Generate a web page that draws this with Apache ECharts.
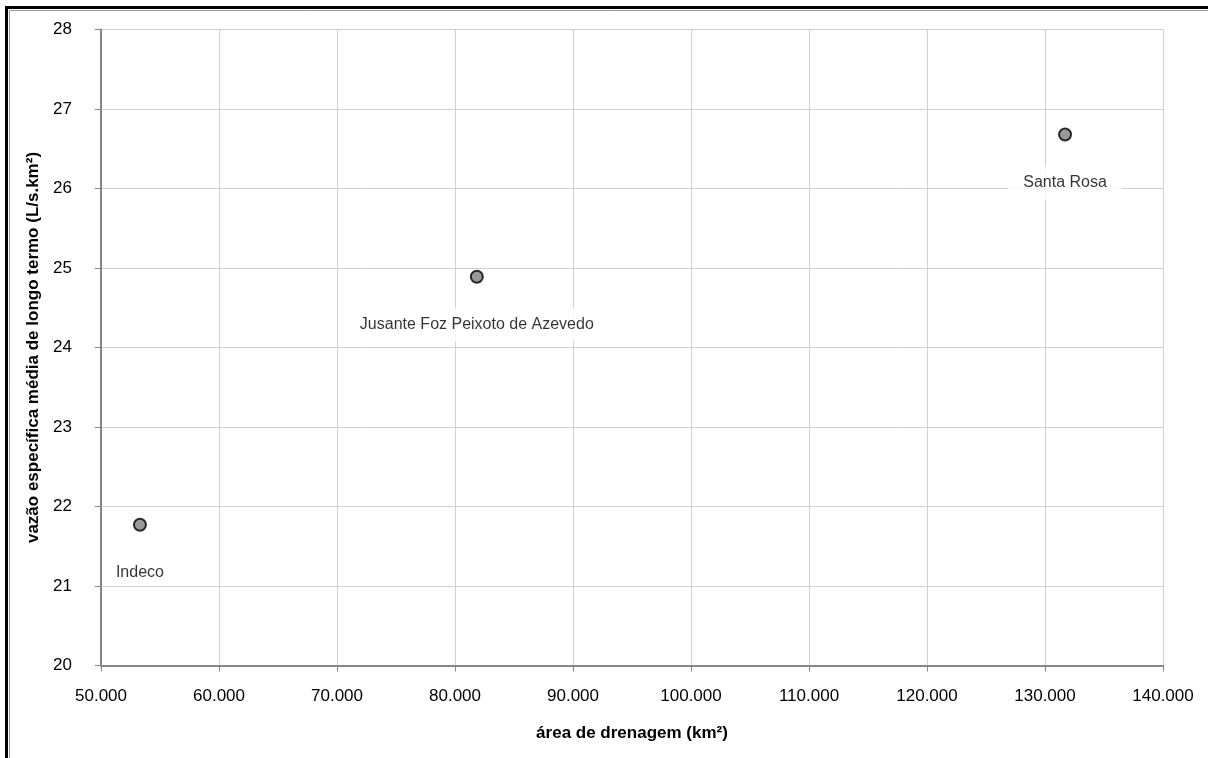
<!DOCTYPE html>
<html><head><meta charset="utf-8">
<script src="https://cdn.jsdelivr.net/npm/echarts@6/dist/echarts.min.js"></script>
<style>html,body{margin:0;padding:0;background:#fff}#c{width:1208px;height:758px}</style>
</head><body><div id="c"></div>
<script>
const names = ['Indeco', 'Jusante Foz Peixoto de Azevedo', 'Santa Rosa'];
const areas = [53300, 81850, 131700];
const specificFlows = [21.77, 24.89, 26.68];
const xTicks = {min: 50000, max: 140000, interval: 10000};
const yTicks = {min: 20, max: 28, interval: 1};

const font = 'Liberation Sans';
const chart = echarts.init(document.getElementById('c'), null, {renderer: 'canvas'});
const fmt = v => {
  const s = String(Math.round(v));
  return s.replace(/\B(?=(\d{3})+(?!\d))/g, '.');
};
chart.setOption({
  animation: false,
  backgroundColor: '#fff',
  graphic: [
    {type: 'rect', shape: {x: 6.5, y: 7.5, width: 1300, height: 900}, style: {fill: 'none', stroke: '#000', lineWidth: 3}},
    {type: 'rect', shape: {x: 9.5, y: 10.5, width: 1300, height: 900}, style: {fill: 'none', stroke: '#999', lineWidth: 1}}
  ],
  grid: {left: 101, right: 45, top: 29.5, bottom: 92.5},
  xAxis: {
    type: 'value', min: xTicks.min, max: xTicks.max, interval: xTicks.interval,
    name: 'área de drenagem (km²)', nameLocation: 'middle', nameGap: 59,
    nameTextStyle: {fontFamily: font, fontSize: 17, fontWeight: 'bold', color: '#000'},
    axisLine: {show: true, lineStyle: {color: '#868686', width: 2}},
    axisTick: {show: true, length: 6, lineStyle: {color: '#868686', width: 1}},
    axisLabel: {fontFamily: font, fontSize: 17, color: '#000', margin: 22, formatter: fmt},
    splitLine: {show: true, lineStyle: {color: '#d0d0d0', width: 1}}
  },
  yAxis: {
    type: 'value', min: yTicks.min, max: yTicks.max, interval: yTicks.interval,
    name: 'vazão específica média de longo termo (L/s.km²)', nameLocation: 'middle', nameGap: 49, nameRotate: 90,
    nameTextStyle: {fontFamily: font, fontSize: 17, fontWeight: 'bold', color: '#000'},
    axisLine: {show: true, lineStyle: {color: '#868686', width: 2}},
    axisTick: {show: true, length: 6, lineStyle: {color: '#868686', width: 1}},
    axisLabel: {fontFamily: font, fontSize: 17, color: '#000', margin: 29},
    splitLine: {show: true, lineStyle: {color: '#d0d0d0', width: 1}}
  },
  series: [{
    type: 'scatter',
    symbol: 'circle',
    symbolSize: 12,
    itemStyle: {color: '#808080', borderColor: '#000', borderWidth: 2},
    data: names.map((n, i) => {
      const d = {name: n, value: [areas[i], specificFlows[i]]};
      if (i === 0) d.label = {padding: [5, 10], distance: 28};
      return d;
    }),
    label: {
      show: true, position: 'bottom', distance: 24,
      formatter: p => p.name,
      fontFamily: font, fontSize: 16, color: '#000',
      backgroundColor: '#fff', padding: [9, 15]
    }
  }]
});
</script></body></html>
